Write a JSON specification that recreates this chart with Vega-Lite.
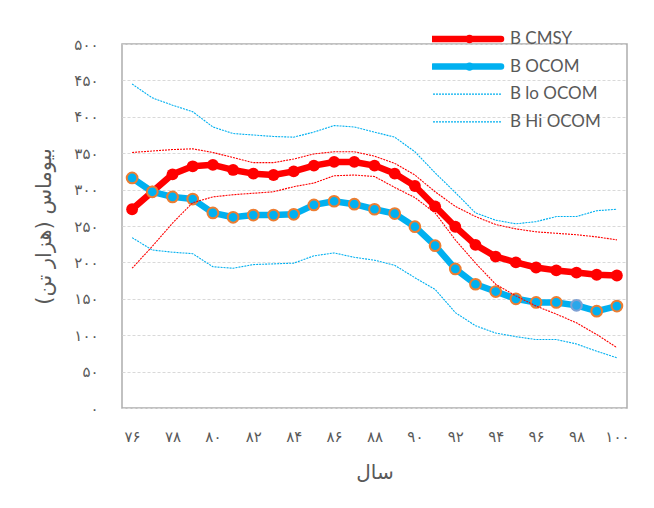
{
  "$schema": "https://vega.github.io/schema/vega-lite/v6.json",
  "width": 505,
  "height": 364,
  "autosize": {"type": "none"},
  "padding": {"left": 122, "top": 44, "right": 27, "bottom": 100},
  "background": "white",
  "config": {
    "view": {"stroke": "#ADADAD", "strokeWidth": 1.5},
    "axis": {
      "labelFont": "DejaVu Sans",
      "labelColor": "#595959",
      "titleFont": "DejaVu Sans",
      "titleColor": "#595959",
      "titleFontWeight": "normal"
    }
  },
  "data": {
    "values": [
      {"year": 76, "B CMSY": 273, "B OCOM": 316, "B lo OCOM": 234, "B Hi OCOM": 445, "B lo CMSY": 192, "B Hi CMSY": 351},
      {"year": 77, "B CMSY": 297, "B OCOM": 297, "B lo OCOM": 217, "B Hi OCOM": 426, "B lo CMSY": 222, "B Hi CMSY": 353},
      {"year": 78, "B CMSY": 321, "B OCOM": 290, "B lo OCOM": 214, "B Hi OCOM": 416, "B lo CMSY": 254, "B Hi CMSY": 355},
      {"year": 79, "B CMSY": 332, "B OCOM": 287, "B lo OCOM": 212, "B Hi OCOM": 407, "B lo CMSY": 282, "B Hi CMSY": 356},
      {"year": 80, "B CMSY": 334, "B OCOM": 268, "B lo OCOM": 194, "B Hi OCOM": 386, "B lo CMSY": 290, "B Hi CMSY": 351},
      {"year": 81, "B CMSY": 327, "B OCOM": 262, "B lo OCOM": 192, "B Hi OCOM": 377, "B lo CMSY": 293, "B Hi CMSY": 344},
      {"year": 82, "B CMSY": 322, "B OCOM": 265, "B lo OCOM": 197, "B Hi OCOM": 375, "B lo CMSY": 295, "B Hi CMSY": 337},
      {"year": 83, "B CMSY": 320, "B OCOM": 265, "B lo OCOM": 198, "B Hi OCOM": 373, "B lo CMSY": 297, "B Hi CMSY": 337},
      {"year": 84, "B CMSY": 325, "B OCOM": 266, "B lo OCOM": 199, "B Hi OCOM": 372, "B lo CMSY": 304, "B Hi CMSY": 342},
      {"year": 85, "B CMSY": 333, "B OCOM": 279, "B lo OCOM": 209, "B Hi OCOM": 379, "B lo CMSY": 309, "B Hi CMSY": 349},
      {"year": 86, "B CMSY": 338, "B OCOM": 284, "B lo OCOM": 213, "B Hi OCOM": 388, "B lo CMSY": 319, "B Hi CMSY": 352},
      {"year": 87, "B CMSY": 338, "B OCOM": 280, "B lo OCOM": 207, "B Hi OCOM": 386, "B lo CMSY": 320, "B Hi CMSY": 352},
      {"year": 88, "B CMSY": 333, "B OCOM": 273, "B lo OCOM": 203, "B Hi OCOM": 379, "B lo CMSY": 318, "B Hi CMSY": 346},
      {"year": 89, "B CMSY": 322, "B OCOM": 267, "B lo OCOM": 196, "B Hi OCOM": 372, "B lo CMSY": 303, "B Hi CMSY": 336},
      {"year": 90, "B CMSY": 305, "B OCOM": 249, "B lo OCOM": 179, "B Hi OCOM": 352, "B lo CMSY": 289, "B Hi CMSY": 320},
      {"year": 91, "B CMSY": 277, "B OCOM": 223, "B lo OCOM": 163, "B Hi OCOM": 323, "B lo CMSY": 268, "B Hi CMSY": 297},
      {"year": 92, "B CMSY": 249, "B OCOM": 191, "B lo OCOM": 131, "B Hi OCOM": 296, "B lo CMSY": 231, "B Hi CMSY": 277},
      {"year": 93, "B CMSY": 224, "B OCOM": 170, "B lo OCOM": 113, "B Hi OCOM": 268, "B lo CMSY": 199, "B Hi CMSY": 263},
      {"year": 94, "B CMSY": 208, "B OCOM": 160, "B lo OCOM": 103, "B Hi OCOM": 258, "B lo CMSY": 170, "B Hi CMSY": 252},
      {"year": 95, "B CMSY": 200, "B OCOM": 150, "B lo OCOM": 98, "B Hi OCOM": 253, "B lo CMSY": 154, "B Hi CMSY": 246},
      {"year": 96, "B CMSY": 193, "B OCOM": 145, "B lo OCOM": 94, "B Hi OCOM": 256, "B lo CMSY": 140, "B Hi CMSY": 242},
      {"year": 97, "B CMSY": 189, "B OCOM": 145, "B lo OCOM": 94, "B Hi OCOM": 263, "B lo CMSY": 129, "B Hi CMSY": 240},
      {"year": 98, "B CMSY": 186, "B OCOM": 141, "B lo OCOM": 88, "B Hi OCOM": 263, "B lo CMSY": 117, "B Hi CMSY": 238},
      {"year": 99, "B CMSY": 183, "B OCOM": 133, "B lo OCOM": 78, "B Hi OCOM": 271, "B lo CMSY": 101, "B Hi CMSY": 235},
      {"year": 100, "B CMSY": 182, "B OCOM": 140, "B lo OCOM": 69, "B Hi OCOM": 273, "B lo CMSY": 83, "B Hi CMSY": 231}
    ]
  },
  "transform": [
    {"fold": ["B CMSY", "B OCOM", "B lo OCOM", "B Hi OCOM", "B lo CMSY", "B Hi CMSY"], "as": ["series", "value"]}
  ],
  "encoding": {
    "x": {
      "field": "year",
      "type": "quantitative",
      "scale": {"domain": [75.5, 100.5], "nice": false, "zero": false},
      "axis": {
        "values": [76, 78, 80, 82, 84, 86, 88, 90, 92, 94, 96, 98, 100],
        "grid": false,
        "ticks": false,
        "domain": false,
        "labelFontSize": 15,
        "labelPadding": 21,
        "labelExpr": "replace(replace(replace(replace(replace(replace(replace(replace(replace(replace(datum.label, regexp('0','g'), '۰'), regexp('1','g'), '۱'), regexp('2','g'), '۲'), regexp('3','g'), '۳'), regexp('4','g'), '۴'), regexp('5','g'), '۵'), regexp('6','g'), '۶'), regexp('7','g'), '۷'), regexp('8','g'), '۸'), regexp('9','g'), '۹')",
        "title": "سال",
        "titleFontSize": 20,
        "titlePadding": 18
      }
    },
    "y": {
      "field": "value",
      "type": "quantitative",
      "scale": {"domain": [0, 500], "nice": false},
      "axis": {
        "values": [0, 50, 100, 150, 200, 250, 300, 350, 400, 450, 500],
        "grid": true,
        "gridColor": "#D9D9D9",
        "gridDash": [3, 2],
        "ticks": false,
        "domain": false,
        "labelFontSize": 15,
        "labelPadding": 24,
        "labelExpr": "replace(replace(replace(replace(replace(replace(replace(replace(replace(replace(datum.label, regexp('0','g'), '۰'), regexp('1','g'), '۱'), regexp('2','g'), '۲'), regexp('3','g'), '۳'), regexp('4','g'), '۴'), regexp('5','g'), '۵'), regexp('6','g'), '۶'), regexp('7','g'), '۷'), regexp('8','g'), '۸'), regexp('9','g'), '۹')",
        "title": "بیوماس (هزار تن)‏",
        "titleFontSize": 21,
        "titlePadding": 19
      }
    }
  },
  "layer": [
    {
      "transform": [{"filter": {"field": "series", "oneOf": ["B CMSY", "B OCOM"]}}],
      "mark": {"type": "line", "strokeWidth": 6.5, "strokeCap": "round", "strokeJoin": "round"},
      "encoding": {
        "color": {
          "field": "series",
          "type": "nominal",
          "scale": {
            "domain": ["B CMSY", "B OCOM", "B lo OCOM", "B Hi OCOM", "B lo CMSY", "B Hi CMSY"],
            "range": ["#FF0000", "#00B0F0", "#00B0F0", "#00B0F0", "#FF0000", "#FF0000"]
          },
          "legend": {
            "values": ["B CMSY", "B OCOM", "B lo OCOM", "B Hi OCOM"],
            "title": null,
            "orient": "none",
            "legendX": 310,
            "legendY": -15,
            "zindex": 1,
            "padding": 0,
            "symbolType": "stroke",
            "symbolSize": 4624,
            "clipHeight": 20,
            "rowPadding": 7.6,
            "labelFont": "Lato",
            "labelFontSize": 17,
            "labelColor": "#595959",
            "labelOffset": 8,
            "labelLimit": 200,
            "encode": {
              "symbols": {
                "update": {
                  "size": {"value": 4624},
                  "strokeWidth": {"signal": "(indexof(['B CMSY','B OCOM'], datum.value) >= 0 ? 6.5 : 1.2)"},
                  "strokeDash": {"signal": "(indexof(['B CMSY','B OCOM'], datum.value) >= 0 ? [] : [2,1])"},
                  "strokeCap": {"signal": "(indexof(['B CMSY','B OCOM'], datum.value) >= 0 ? 'round' : 'butt')"}
                }
              }
            }
          }
        }
      }
    },
    {
      "transform": [{"filter": {"field": "series", "equal": "B CMSY"}}],
      "mark": {"type": "point", "filled": true, "size": 140, "opacity": 1},
      "encoding": {
        "fill": {
          "field": "series",
          "type": "nominal",
          "scale": {"domain": ["B CMSY", "B OCOM"], "range": ["#FF0000", "#00B0F0"]},
          "legend": {
            "title": null,
            "orient": "none",
            "legendX": 339,
            "legendY": -15,
            "zindex": 2,
            "padding": 0,
            "symbolType": "circle",
            "symbolSize": 70,
            "clipHeight": 20,
            "rowPadding": 7.6,
            "labelFont": "Lato",
            "labelFontSize": 17,
            "labelExpr": "''",
            "encode": {
              "symbols": {
                "update": {
                  "size": {"signal": "(datum.value === 'B OCOM' ? 55 : 80)"},
                  "stroke": {"signal": "(datum.value === 'B OCOM' ? '#ED7D31' : '#FF0000')"},
                  "strokeWidth": {"signal": "(datum.value === 'B OCOM' ? 1.8 : 0)"},
                  "opacity": {"value": 1},
                  "fillOpacity": {"value": 1}
                }
              }
            }
          }
        }
      }
    },
    {
      "transform": [{"filter": {"field": "series", "equal": "B OCOM"}}],
      "mark": {"type": "point", "filled": true, "size": 115, "opacity": 1, "strokeWidth": 2},
      "encoding": {
        "fill": {
          "field": "series",
          "type": "nominal",
          "condition": {"test": "datum.year === 98", "value": "#2AA7EA"}
        },
        "stroke": {
          "condition": {"test": "datum.year === 98", "value": "#7EA1D4"},
          "value": "#ED7D31"
        }
      }
    },
    {
      "transform": [{"filter": {"field": "series", "oneOf": ["B lo OCOM", "B Hi OCOM", "B lo CMSY", "B Hi CMSY"]}}],
      "mark": {"type": "line", "strokeWidth": 1.1, "strokeDash": [2, 1]},
      "encoding": {
        "color": {"field": "series", "type": "nominal"}
      }
    }
  ]
}
